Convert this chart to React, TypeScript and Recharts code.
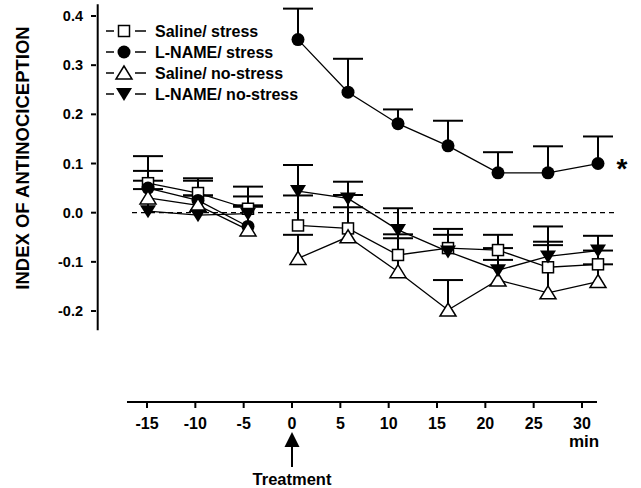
import React from 'react';
import {
  ComposedChart,
  Line,
  Scatter,
  XAxis,
  YAxis,
  ErrorBar,
  ReferenceLine,
  ReferenceDot,
  Legend,
} from 'recharts';

// time after treatment (min)
const minutes = [-15, -10, -5, 0, 5, 10, 15, 20, 25, 30];

const salineStress = [0.06, 0.04, 0.008, -0.026, -0.032, -0.086, -0.072, -0.076, -0.111, -0.105];
const salineStressErr = [0.055, 0.03, 0.045, 0.061, 0.068, 0.042, 0.039, 0.031, 0.052, 0.028];

const lnameStress = [0.05, 0.025, -0.028, 0.352, 0.245, 0.181, 0.136, 0.081, 0.081, 0.1];
const lnameStressErr = [0.035, 0.04, 0.04, 0.063, 0.068, 0.029, 0.051, 0.042, 0.054, 0.055];

const salineNoStress = [0.03, 0.015, -0.035, -0.093, -0.049, -0.12, -0.198, -0.137, -0.163, -0.14];
const salineNoStressErr = [0.035, 0.02, 0.05, 0.048, 0.06, 0.068, 0.061, 0.041, 0.097, 0.035];

const lnameNoStress = [0.003, -0.005, -0.002, 0.044, 0.029, -0.035, -0.079, -0.117, -0.089, -0.077];
const lnameNoStressErr = [0.045, 0.04, 0.035, 0.053, 0.034, 0.044, 0.034, 0.045, 0.061, 0.03];

const xTicks = [-15, -10, -5, 0, 5, 10, 15, 20, 25, 30];
const yTicks = [-0.2, -0.1, 0, 0.1, 0.2, 0.3, 0.4];

const FONT = 'Arial, "Liberation Sans", Helvetica, sans-serif';

const series = [
  { key: 'ss', name: 'Saline/ stress', values: salineStress, errs: salineStressErr, marker: 'square' },
  { key: 'ls', name: 'L-NAME/ stress', values: lnameStress, errs: lnameStressErr, marker: 'circle' },
  { key: 'sn', name: 'Saline/ no-stress', values: salineNoStress, errs: salineNoStressErr, marker: 'triUp' },
  { key: 'ln', name: 'L-NAME/ no-stress', values: lnameNoStress, errs: lnameNoStressErr, marker: 'triDown' },
];

// before and after treatment are drawn as separate lines
const data = minutes.map((m, i) => {
  const row: any = { min: m };
  series.forEach((s) => {
    row[s.key + 'Pre'] = m < 0 ? s.values[i] : null;
    row[s.key + 'Post'] = m >= 0 ? s.values[i] : null;
    row[s.key + 'Err'] = [0, s.errs[i]];
    row[s.key + 'Top'] = s.values[i] + s.errs[i];
  });
  return row;
});

function Marker({ type, cx, cy }: { type: string; cx: number; cy: number }) {
  if (type === 'square')
    return <rect x={cx - 5.5} y={cy - 5.5} width={11} height={11} fill="#fff" stroke="#000" strokeWidth={1.5} />;
  if (type === 'circle') return <circle cx={cx} cy={cy} r={6.5} fill="#000" />;
  if (type === 'triUp')
    return (
      <polygon
        points={`${cx},${cy - 7} ${cx - 8},${cy + 6} ${cx + 8},${cy + 6}`}
        fill="#fff"
        stroke="#000"
        strokeWidth={1.5}
      />
    );
  return <polygon points={`${cx - 8},${cy - 6} ${cx + 8},${cy - 6} ${cx},${cy + 7}`} fill="#000" />;
}

const makeDot = (type: string) => (props: any) => {
  const { cx, cy, index, value } = props;
  if (cx == null || cy == null || value == null) return <g key={`d-${index}`} />;
  return (
    <g key={`d-${type}-${index}`}>
      <Marker type={type} cx={cx} cy={cy} />
    </g>
  );
};

const CapShape = (props: any) => {
  const { cx, cy } = props;
  return <line x1={cx - 15} x2={cx + 15} y1={cy} y2={cy} stroke="#000" strokeWidth={2} />;
};

const XTick = (props: any) => {
  const { x, y, payload } = props;
  return (
    <g>
      <text x={x} y={y + 19} textAnchor="middle" fontFamily={FONT} fontWeight="bold" fontSize={16} fill="#000">
        {payload.value}
      </text>
      {payload.value === 0 && (
        <g>
          <polygon points={`${x},${y + 22} ${x - 7.5},${y + 37} ${x + 7.5},${y + 37}`} fill="#000" />
          <line x1={x} x2={x} y1={y + 37} y2={y + 57} stroke="#000" strokeWidth={2} />
          <text x={x} y={y + 75} textAnchor="middle" fontFamily={FONT} fontWeight="bold" fontSize={16.5} fill="#000">
            Treatment
          </text>
        </g>
      )}
      {payload.value === 30 && (
        <text x={x + 2} y={y + 37} textAnchor="middle" fontFamily={FONT} fontWeight="bold" fontSize={17} fill="#000">
          min
        </text>
      )}
    </g>
  );
};

// y tick: label plus, on the top tick, nothing else
const YTick = (props: any) => {
  const { x, y, payload } = props;
  return (
    <text x={x} y={y + 5} textAnchor="end" fontFamily={FONT} fontWeight="bold" fontSize={14.5} fill="#000">
      {Number(payload.value).toFixed(1)}
    </text>
  );
};

const renderLegend = () => (
  <svg width={220} height={90}>
    {series.map((s, i) => {
      const cy = 11 + i * 21;
      return (
        <g key={s.key}>
          <line x1={6} x2={14} y1={cy} y2={cy} stroke="#000" strokeWidth={1.5} />
          <Marker type={s.marker} cx={24} cy={cy} />
          <line x1={35} x2={46} y1={cy} y2={cy} stroke="#000" strokeWidth={1.5} />
          <text x={55} y={cy + 6} fontFamily={FONT} fontWeight="bold" fontSize={16} fill="#000">
            {s.name}
          </text>
        </g>
      );
    })}
  </svg>
);

const YLabel = (props: any) => {
  const vb = props.viewBox || { x: 36, y: 4 };
  const cx = vb.x - 14;
  const cy = vb.y + 154;
  return (
    <text
      transform={`translate(${cx},${cy}) rotate(-90)`}
      textAnchor="middle"
      dominantBaseline="central"
      fontFamily={FONT}
      fontWeight="bold"
      fontSize={18.5}
      fill="#000"
    >
      INDEX OF ANTINOCICEPTION
    </text>
  );
};

const Star = (props: any) => {
  const { viewBox } = props;
  const cx = viewBox.x + (viewBox.width || 0) / 2;
  const cy = viewBox.y + (viewBox.height || 0) / 2;
  return (
    <text x={cx + 24} y={cy + 14} textAnchor="middle" fontFamily={FONT} fontWeight="bold" fontSize={28} fill="#000">
      *
    </text>
  );
};

export default function App() {
  return (
    <div style={{ position: 'absolute', left: 0, top: 0 }}>
      <ComposedChart width={641} height={488} data={data} margin={{ top: 4, right: 21, bottom: 0, left: 36 }}>
        <XAxis
          xAxisId="tick"
          dataKey="min"
          type="number"
          domain={[-20.276, 33.93]}
          allowDataOverflow
          ticks={xTicks}
          interval={0}
          height={86}
          axisLine={false}
          tickLine={{ stroke: '#000', strokeWidth: 2 }}
          tickSize={6}
          tickMargin={2}
          tick={<XTick />}
        />
        <XAxis xAxisId="data" dataKey="min" type="number" domain={[-20.2, 32.2]} allowDataOverflow hide height={0} />
        <YAxis
          type="number"
          domain={[-0.385, 0.4244]}
          allowDataOverflow
          ticks={yTicks}
          interval={0}
          width={60}
          axisLine={false}
          tickLine={{ stroke: '#000', strokeWidth: 2 }}
          tickSize={5}
          tickMargin={8}
          tick={<YTick />}
          label={<YLabel />}
        />
        <ReferenceLine
          xAxisId="tick"
          segment={[{ x: -20.1, y: -0.239 }, { x: -20.1, y: 0.424 }]}
          stroke="#000"
          strokeWidth={2}
          ifOverflow="extendDomain"
        />
        <ReferenceLine
          xAxisId="tick"
          segment={[{ x: -17.07, y: -0.385 }, { x: 31.55, y: -0.385 }]}
          stroke="#000"
          strokeWidth={2}
          ifOverflow="visible"
        />
        <ReferenceLine
          xAxisId="data"
          segment={[{ x: -16.6, y: 0 }, { x: 31.7, y: 0 }]}
          stroke="#000"
          strokeWidth={1.2}
          strokeDasharray="5 4"
          ifOverflow="visible"
        />
        {series.map((s) => (
          <Scatter
            key={s.key + 'cap'}
            xAxisId="data"
            dataKey={s.key + 'Top'}
            shape={CapShape}
            isAnimationActive={false}
            legendType="none"
          />
        ))}
        {series.map((s) => (
          <Line
            key={s.key + 'pre'}
            xAxisId="data"
            dataKey={s.key + 'Pre'}
            name={s.name}
            stroke="#000"
            strokeWidth={1.3}
            dot={makeDot(s.marker)}
            activeDot={false}
            connectNulls={false}
            isAnimationActive={false}
          >
            <ErrorBar dataKey={s.key + 'Err'} width={0} stroke="#000" strokeWidth={2} direction="y" />
          </Line>
        ))}
        {series.map((s) => (
          <Line
            key={s.key + 'post'}
            xAxisId="data"
            dataKey={s.key + 'Post'}
            name={s.name}
            stroke="#000"
            strokeWidth={1.3}
            dot={makeDot(s.marker)}
            activeDot={false}
            connectNulls={false}
            isAnimationActive={false}
          >
            <ErrorBar dataKey={s.key + 'Err'} width={0} stroke="#000" strokeWidth={2} direction="y" />
          </Line>
        ))}
        <ReferenceDot xAxisId="data" x={30} y={lnameStress[9]} r={0} label={<Star />} ifOverflow="visible" />
        <Legend
          layout="horizontal"
          verticalAlign="middle"
          align="center"
          content={renderLegend}
          wrapperStyle={{ position: 'absolute', left: 100, top: 20, width: 220, height: 90 }}
        />
      </ComposedChart>
    </div>
  );
}
